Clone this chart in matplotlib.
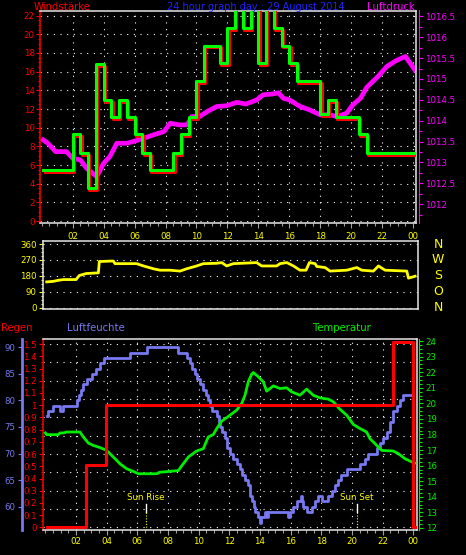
import matplotlib
matplotlib.use('Agg')
import matplotlib.pyplot as plt
import matplotlib.transforms as mtransforms
from matplotlib.ticker import MultipleLocator, FixedLocator, FuncFormatter, NullLocator

# ---------------- data ----------------
hour_ticks = [2, 4, 6, 8, 10, 12, 14, 16, 18, 20, 22, 24]
hour_labels = ['02', '04', '06', '08', '10', '12', '14', '16', '18', '20', '22', '00']

# wind speed (Windstärke), step values
wind_hours = [0.1, 2.0, 2.5, 3.0, 3.5, 4.0, 4.5, 5.0, 5.5, 6.0, 6.5, 7.0, 8.5, 9.0, 9.5,
              10.0, 10.5, 11.5, 12.0, 12.5, 13.0, 13.5, 14.0, 14.5, 15.0, 15.5, 16.0,
              16.5, 18.0, 18.5, 19.0, 20.5, 21.0, 24.1]
wind_speed = [5.5, 9.3, 7.3, 3.5, 16.8, 13.0, 11.1, 13.0, 11.1, 9.3, 7.3, 5.5, 7.3, 9.3, 11.1,
              15.0, 18.8, 16.9, 20.65, 23.0, 20.7, 23.0, 16.9, 23.0, 20.65, 18.8, 16.9,
              15.0, 11.5, 13.0, 11.1, 9.3, 7.3, 7.3]

# air pressure (Luftdruck)
press_hours = [0.1, 0.4, 0.9, 1.6, 2.0, 2.5, 2.9, 3.3, 3.55, 4.0, 4.4, 4.85, 5.5, 5.9, 6.6,
               7.2, 7.9, 8.3, 8.9, 9.4, 9.7, 10.2, 10.7, 11.3, 11.95, 12.6, 13.2, 13.9,
               14.3, 14.9, 15.3, 15.6, 16.0, 16.7, 17.3, 18.0, 18.6, 19.1, 19.7, 20.1,
               20.6, 21.0, 21.7, 22.3, 22.9, 23.5, 23.8, 24.1]
press_hpa = [1013.54, 1013.46, 1013.26, 1013.26, 1013.10, 1013.06, 1012.86, 1012.74, 1012.66,
             1012.98, 1013.14, 1013.46, 1013.46, 1013.50, 1013.58, 1013.66, 1013.74, 1013.94,
             1013.90, 1013.90, 1014.10, 1014.10, 1014.22, 1014.34, 1014.36, 1014.44, 1014.40,
             1014.50, 1014.62, 1014.64, 1014.67, 1014.54, 1014.50, 1014.34, 1014.26, 1014.14,
             1014.14, 1014.10, 1014.18, 1014.38, 1014.54, 1014.80, 1015.05, 1015.30, 1015.44,
             1015.54, 1015.38, 1015.22]

# wind direction
dir_hours = [0.16, 0.59, 0.92, 1.24, 2.07, 2.28, 2.72, 3.52, 3.58, 4.49, 4.6, 6.01, 6.45, 7.1,
             7.53, 8.18, 8.83, 9.26, 9.91, 10.35, 11.21, 11.54, 11.86, 12.3, 13.81, 14.14,
             15.11, 15.33, 15.77, 16.2, 16.63, 17.02, 17.24, 17.61, 17.72, 18.26, 18.58,
             19.67, 20.32, 20.64, 21.4, 21.73, 22.16, 23.57, 23.68, 24.11]
dir_deg = [146, 149, 155, 159, 159, 182, 193, 197, 261, 264, 249, 249, 236, 220,
           212, 212, 207, 220, 236, 249, 251, 255, 236, 249, 255, 236,
           236, 249, 255, 236, 212, 212, 255, 249, 233, 227, 207,
           212, 227, 212, 207, 236, 212, 207, 167, 178]

# humidity (Luftfeuchte), step values
hum_hours = [0.09, 0.2, 0.52, 0.96, 1.18, 2.04, 2.2, 2.35, 2.48, 2.7, 3.03, 3.3, 3.6, 3.85,
             5.53, 6.61, 8.68, 9.22, 9.44, 9.6, 9.76, 9.9, 10.1, 10.31, 10.5, 10.63, 10.75,
             10.85, 11.18, 11.3, 11.39, 11.5, 11.75, 11.83, 12.05, 12.26, 12.48, 12.7, 12.85,
             13.03, 13.24, 13.35, 13.46, 13.6, 13.68, 13.9, 14.01, 14.1, 14.35, 14.44, 14.55,
             15.74, 15.85, 15.96, 16.18, 16.4, 16.68, 16.72, 16.83, 17.05, 17.38, 17.59,
             17.81, 18.03, 18.46, 18.68, 18.9, 19.12, 19.3, 19.66, 20.53, 20.85, 21.07,
             21.62, 21.83, 22.05, 22.27, 22.49, 22.7, 22.92, 23.14, 23.36, 23.9]
hum_pct = [77, 78, 79, 78, 79, 80, 81, 82, 83, 84, 85, 86, 87, 88,
           89, 90, 89, 88, 87, 86, 85, 84, 83, 82, 81, 80, 79,
           78, 77, 76, 75, 74, 73, 71, 70, 69, 68, 67, 66,
           65, 64, 62, 61, 60, 59, 58, 57, 58, 59, 58, 59,
           59, 58, 59, 60, 61, 62, 61, 60, 59, 60, 61,
           62, 61, 62, 63, 64, 65, 66, 67, 68, 69, 70,
           71, 72, 73, 74, 76, 78, 79, 80, 81, 81]

# temperature
temp_hours = [0.0, 0.09, 0.85, 0.96, 1.18, 1.39, 2.26, 2.48, 2.81, 3.13, 3.57, 4.0, 4.44, 4.87,
              5.31, 5.74, 6.07, 7.26, 7.48, 8.13, 8.68, 9.0, 9.33, 9.87, 10.31, 10.63, 10.96,
              11.18, 11.5, 12.05, 12.48, 12.81, 13.03, 13.24, 13.46, 13.57, 13.9, 14.22, 14.44,
              14.66, 14.88, 15.31, 15.74, 16.07, 16.61, 17.05, 17.48, 17.92, 18.46, 18.79,
              19.22, 19.66, 20.09, 20.53, 20.96, 21.18, 21.51, 21.94, 22.7, 23.03, 23.46,
              24.01, 24.12]
temp_c = [18.1, 17.99, 17.99, 18.1, 18.1, 18.16, 18.16, 17.84, 17.45, 17.3, 17.16, 16.98, 16.55,
          16.12, 15.8, 15.63, 15.48, 15.48, 15.58, 15.63, 15.69, 16.12, 16.55, 16.94, 17.09,
          17.84, 18.0, 18.38, 18.85, 19.24, 19.56, 19.99, 20.52, 21.38, 21.86, 21.98, 21.7,
          21.38, 20.78, 20.95, 21.12, 20.95, 21.0, 20.74, 20.52, 20.91, 20.52, 20.35, 20.27,
          20.1, 19.62, 19.24, 18.65, 18.38, 18.16, 17.73, 17.41, 16.98, 16.94, 16.77, 16.45,
          16.19, 16.17]

# rain (Regen), step values
rain_hours = [0.09, 2.65, 3.96, 22.7, 24.01, 24.12]
rain_mm = [0.0, 0.51, 1.0, 1.52, 0.0, 0.0]

sunrise_h = 6.55
sunset_h = 20.35

# ---------------- style ----------------
W, H = 466, 555
fig = plt.figure(figsize=(W / 100, H / 100), dpi=100, facecolor='black')
plt.rcParams['font.family'] = ['DejaVu Sans']

RED = '#FF0000'
GREEN = '#00FF00'
TGREEN = '#00EE00'
MAG = '#FF00FF'
YEL = '#FFFF00'
BLUE = '#7878F0'
FRAME = '#E6E6E6'
TFS = 6.2
DOT = (0, (1, 5))


def px_rect(l, t, r, b):
    return [l / W, 1 - b / H, (r - l) / W, (b - t) / H]


def base_axes(rect, xlim):
    ax = fig.add_axes(rect)
    ax.set_facecolor('black')
    ax.set_xlim(*xlim)
    for s in ax.spines.values():
        s.set_color(FRAME)
        s.set_linewidth(1.1)
    return ax


def xaxis_style(ax, pad):
    ax.xaxis.set_major_locator(FixedLocator(hour_ticks))
    ax.set_xticklabels(hour_labels)
    ax.xaxis.set_minor_locator(MultipleLocator(0.5))
    ax.tick_params(axis='x', which='both', direction='out', colors='#A0A0A0',
                   labelcolor=YEL, labelsize=TFS, pad=pad)
    ax.tick_params(axis='x', which='major', length=3.5, width=0.8)
    ax.tick_params(axis='x', which='minor', length=2.5, width=0.8)
    ax.tick_params(axis='x', which='both', top=False)


def yaxis_style(ax, color, major, minor, pad, fmt='%g'):
    ax.yaxis.set_major_locator(MultipleLocator(major))
    if minor:
        ax.yaxis.set_minor_locator(MultipleLocator(minor))
    else:
        ax.yaxis.set_minor_locator(NullLocator())
    ax.yaxis.set_major_formatter(FuncFormatter(lambda v, p: fmt % v))
    ax.tick_params(axis='y', which='both', direction='out', colors=color,
                   labelsize=TFS, pad=pad, width=0.8)
    ax.tick_params(axis='y', which='major', length=3)
    ax.tick_params(axis='y', which='minor', length=1.8)


# ---------------- panel 1: wind speed / pressure ----------------
ax1 = base_axes(px_rect(40, 10.5, 416, 223), (-0.11, 24.18))
ax1.set_ylim(-0.2, 22.55)
ax1.set_yticks(range(0, 23, 2))
yaxis_style(ax1, RED, 2, 0.5, 0.8)
ax1.spines['left'].set_color(RED)
xaxis_style(ax1, 3.3)

ax1r = ax1.twinx()
ax1r.set_ylim(1011.55, 1016.64)
yaxis_style(ax1r, MAG, 0.5, 0.25, 2.0)
ax1r.yaxis.set_major_locator(FixedLocator([1012, 1012.5, 1013, 1013.5, 1014, 1014.5,
                                           1015, 1015.5, 1016, 1016.5]))
for k in ['top', 'bottom', 'left']:
    ax1r.spines[k].set_visible(False)
ax1r.spines['right'].set_color(MAG)
ax1r.spines['right'].set_position(('outward', 1.8))
ax1r.patch.set_facecolor('black')
ax1r.patch.set_visible(True)
# grid (behind all lines), drawn in wind-speed coordinates
for v in range(0, 23, 2):
    ax1r.plot([-0.11, 24.18], [v, v], color='white', lw=0.8, ls=DOT, zorder=1,
              transform=ax1.transData)
gtr1 = mtransforms.blended_transform_factory(ax1.transData, ax1.transAxes)
for v in hour_ticks:
    ax1r.plot([v, v], [0, 1], color='white', lw=0.8, ls=DOT, zorder=1, transform=gtr1)
ax1r.plot(press_hours, press_hpa, color=MAG, lw=3.4, zorder=3)

ax1.set_zorder(ax1r.get_zorder() + 1)
ax1.patch.set_visible(False)
red_tr = mtransforms.offset_copy(ax1.transData, fig=fig, x=0.9, y=-1.3, units='points')
ax1.plot(wind_hours, wind_speed, color=RED, lw=2.2, drawstyle='steps-post',
         transform=red_tr, zorder=4)
ax1.plot(wind_hours, wind_speed, color=GREEN, lw=2.2, drawstyle='steps-post', zorder=5)

fig.text(34 / W, 1 - 9.6 / H, 'Windstärke', color=RED, fontsize=7.3, va='baseline', ha='left')
fig.text(256 / W, 1 - 9.6 / H, '24 hour graph day : 29 August 2014', color='#2222FF',
         fontsize=7.0, va='baseline', ha='center')
fig.text(415 / W, 1 - 9.6 / H, 'Luftdruck', color=MAG, fontsize=7.3, va='baseline', ha='right')

# ---------------- panel 2: wind direction ----------------
ax2 = base_axes(px_rect(42.7, 241, 417.7, 309.3), (-0.1, 24.28))
ax2.set_ylim(-9, 377)
yaxis_style(ax2, YEL, 90, 22.5, 1.5)
ax2.set_yticks([0, 90, 180, 270, 360])
ax2.tick_params(axis='x', which='both', bottom=False, top=False, labelbottom=False)
for v in [0, 90, 180, 270, 360]:
    ax2.axhline(v, color='white', lw=0.8, ls=DOT, zorder=1)
ax2.plot(dir_hours, dir_deg, color=YEL, lw=2.0, zorder=3)
btr = mtransforms.blended_transform_factory(ax2.transAxes, ax2.transData)
for lab, v in zip(['N', 'W', 'S', 'O', 'N'], [360, 270, 180, 90, 0]):
    ax2.text(1.054, v, lab, color=YEL, fontsize=9, ha='center', va='center',
             transform=btr, clip_on=False)

# ---------------- panel 3: rain / humidity / temperature ----------------
ax3 = base_axes(px_rect(43, 339.3, 416.7, 530), (-0.15, 24.23))
ax3.set_ylim(-0.021, 1.539)
yaxis_style(ax3, RED, 0.1, 0.05, 1.5)
ax3.spines['left'].set_color(RED)
xaxis_style(ax3, 1.5)
for i in range(11):
    ax3.axhline(i * 0.15, color='white', lw=0.8, ls=DOT, zorder=1)
for v in hour_ticks:
    ax3.axvline(v, color='white', lw=0.8, ls=DOT, zorder=1)

ax3h = ax3.twinx()
ax3h.set_ylim(55.6, 91.5)
ax3h.yaxis.set_ticks_position('left')
ax3h.yaxis.set_label_position('left')
yaxis_style(ax3h, BLUE, 5, None, 1.8)
for k in ['top', 'bottom', 'right']:
    ax3h.spines[k].set_visible(False)
ax3h.spines['left'].set_color(BLUE)
ax3h.spines['left'].set_linewidth(2.0)
ax3h.spines['left'].set_position(('outward', 15.4))
ax3h.plot(hum_hours, hum_pct, color=BLUE, lw=2.0, drawstyle='steps-post', zorder=3)

ax3t = ax3.twinx()
ax3t.set_ylim(11.87, 24.11)
yaxis_style(ax3t, TGREEN, 1, 0.25, 1.7)
for k in ['top', 'bottom', 'left']:
    ax3t.spines[k].set_visible(False)
ax3t.spines['right'].set_color(TGREEN)
ax3t.spines['right'].set_position(('outward', 1.7))
ax3t.plot(temp_hours, temp_c, color=TGREEN, lw=2.0, zorder=3)

# rain on top
ax3r = ax3.twinx()
ax3r.set_ylim(ax3.get_ylim())
ax3r.axis('off')
ax3r.plot(rain_hours, rain_mm, color=RED, lw=2.2, drawstyle='steps-post', zorder=4)

# sunrise / sunset markers
str3 = mtransforms.blended_transform_factory(ax3.transData, ax3.transAxes)
for h, lab in [(sunrise_h, 'Sun Rise'), (sunset_h, 'Sun Set')]:
    ax3r.plot([h, h], [0.0, 0.096], color=YEL, lw=0.8, ls=(0, (1, 1.5)), transform=str3)
    ax3r.plot([h, h], [0.096, 0.136], color='white', lw=1.0, transform=str3)
    ax3r.text(h, 0.171, lab, color=YEL, fontsize=6.2, ha='center', va='center',
              transform=str3)

fig.text(1 / W, 1 - 331 / H, 'Regen', color=RED, fontsize=7.3, va='baseline', ha='left')
fig.text(66.7 / W, 1 - 331 / H, 'Luftfeuchte', color=BLUE, fontsize=7.3, va='baseline', ha='left')
fig.text(313 / W, 1 - 331 / H, 'Temperatur', color=TGREEN, fontsize=7.3, va='baseline', ha='left')

fig.savefig('out.png', dpi=100, facecolor='black')
